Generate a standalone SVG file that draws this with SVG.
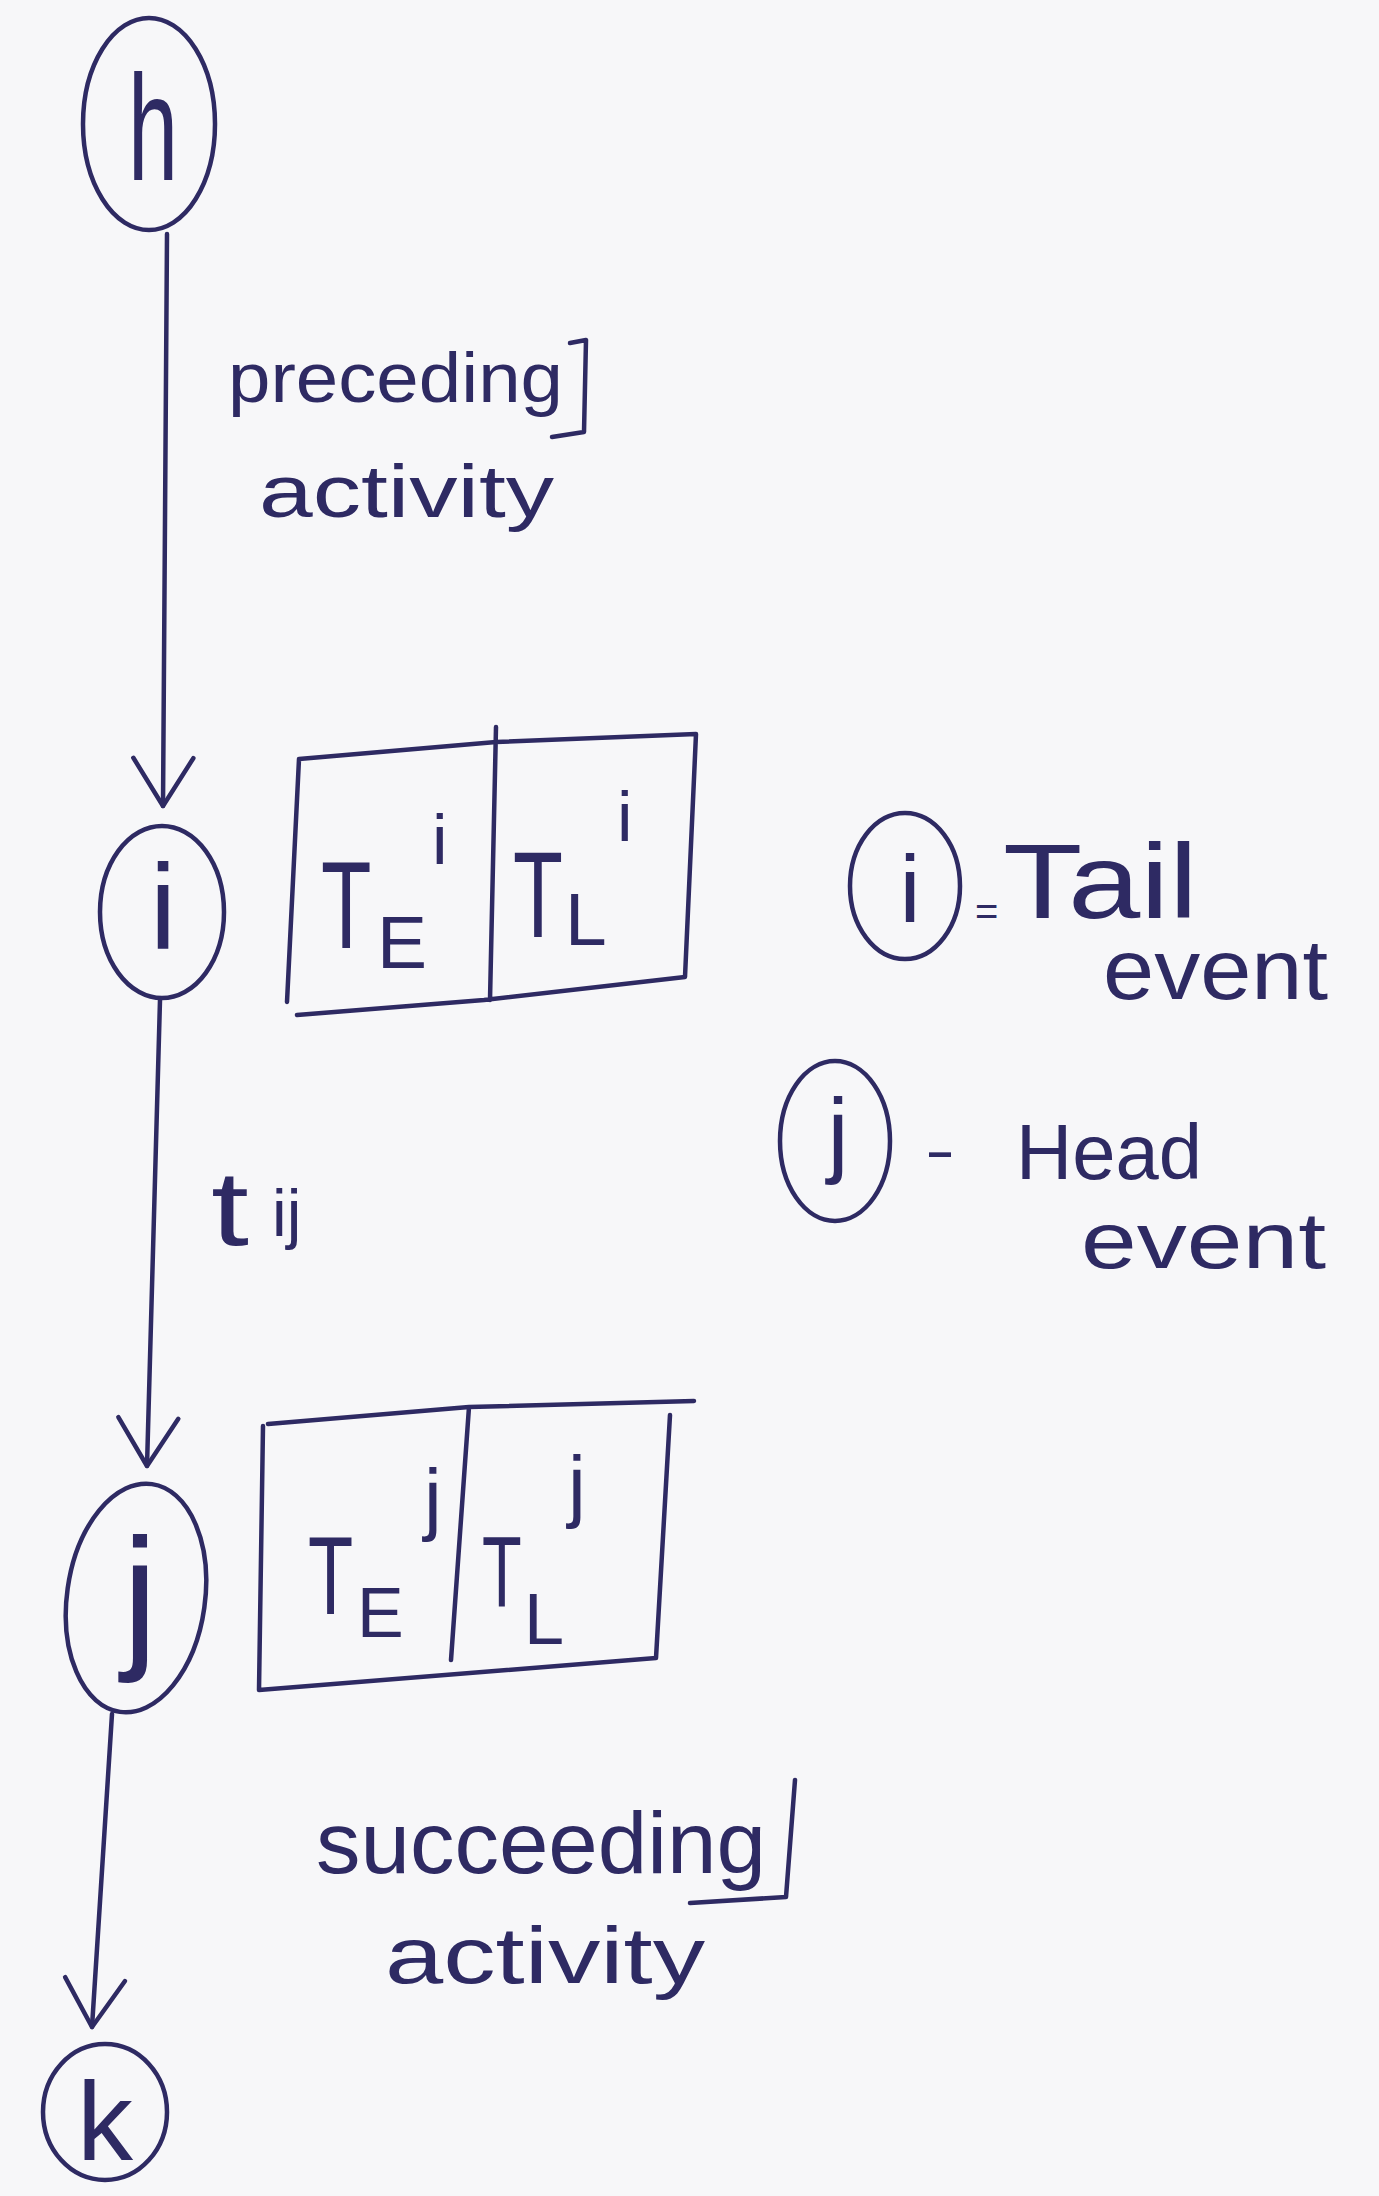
<svg xmlns="http://www.w3.org/2000/svg" width="1379" height="2196" viewBox="0 0 1379 2196">
<style>
.ink{fill:none;stroke:#2e2a63;stroke-width:4.5;stroke-linecap:round;stroke-linejoin:round}
.t{fill:#2e2a63;font-family:"Liberation Sans",Arial,sans-serif}
</style>
<defs>
<marker id="arr" markerUnits="userSpaceOnUse" viewBox="-60 -40 64 80" refX="0" refY="0" markerWidth="64" markerHeight="80" orient="auto">
<path d="M-48,-30 L0,0 L-48,30" fill="none" stroke="#2e2a63" stroke-width="4.5" stroke-linecap="round" stroke-linejoin="round"/>
</marker>
</defs>
<rect width="1379" height="2196" fill="#f7f7f9"/>
<g id="connectors">
<path class="ink" d="M167,234 L163,806" marker-end="url(#arr)"/>
<path class="ink" d="M160,1000 L147,1466" marker-end="url(#arr)"/>
<path class="ink" d="M112,1714 L92,2027" marker-end="url(#arr)"/>
</g>
<g id="node-h">
<ellipse class="ink" cx="149" cy="124" rx="66" ry="106"/>
<text class="t" x="128" y="180" font-size="150" textLength="50" lengthAdjust="spacingAndGlyphs">h</text>
</g>
<g id="label-preceding">
<text class="t" x="228" y="402" font-size="70" textLength="335" lengthAdjust="spacingAndGlyphs">preceding</text>
<text class="t" x="259" y="517" font-size="75" textLength="295" lengthAdjust="spacingAndGlyphs">activity</text>
<path class="ink" d="M570,343 L586,340 L584,432 L552,437"/>
</g>
<g id="node-i">
<ellipse class="ink" cx="162" cy="912" rx="62" ry="86"/>
<text class="t" x="163" y="948" font-size="120" text-anchor="middle">i</text>
</g>
<g id="box-i">
<path class="ink" d="M299,759 L496,742 L696,734 M696,734 L685,977 L484,1000 L297,1015 M299,759 L287,1002 M496,727 L490,1000"/>
<text class="t" font-size="125" transform="translate(321,948) scale(0.66,1)">T</text>
<text class="t" x="377" y="968" font-size="75">E</text>
<text class="t" x="432" y="864" font-size="70">i</text>
<text class="t" font-size="122" transform="translate(513,937) scale(0.67,1)">T</text>
<text class="t" x="565" y="945" font-size="75">L</text>
<text class="t" x="617" y="841" font-size="70">i</text>
</g>
<g id="label-tij">
<text class="t" font-size="105" transform="translate(211,1245) scale(1.3,1)">t</text>
<text class="t" x="272" y="1236" font-size="66">ij</text>
</g>
<g id="legend-i">
<ellipse class="ink" cx="905" cy="886" rx="55" ry="73"/>
<text class="t" x="910" y="922" font-size="95" text-anchor="middle">i</text>
<text class="t" x="975" y="925" font-size="40">=</text>
<text class="t" x="1003" y="918" font-size="105" textLength="195" lengthAdjust="spacingAndGlyphs">Tail</text>
<text class="t" x="1103" y="999" font-size="85" textLength="225" lengthAdjust="spacingAndGlyphs">event</text>
</g>
<g id="legend-j">
<ellipse class="ink" cx="835" cy="1141" rx="55" ry="80"/>
<text class="t" x="838" y="1165" font-size="95" text-anchor="middle">j</text>
<text class="t" x="925" y="1170" font-size="60" textLength="30" lengthAdjust="spacingAndGlyphs">-</text>
<text class="t" x="1016" y="1179" font-size="78" textLength="186" lengthAdjust="spacingAndGlyphs">Head</text>
<text class="t" x="1081" y="1268" font-size="80" textLength="245" lengthAdjust="spacingAndGlyphs">event</text>
</g>
<g id="node-j">
<ellipse class="ink" cx="136" cy="1598" rx="69" ry="115" transform="rotate(8 136 1598)"/>
<text class="t" x="140" y="1650" font-size="160" text-anchor="middle">j</text>
</g>
<g id="box-j">
<path class="ink" d="M268,1424 L469,1407 L694,1401 M670,1415 L656,1658 L259,1690 M263,1426 L259,1690 M469,1407 L451,1660"/>
<text class="t" font-size="112" transform="translate(308,1614) scale(0.66,1)">T</text>
<text class="t" x="357" y="1637" font-size="70">E</text>
<text class="t" x="424" y="1525" font-size="80">j</text>
<text class="t" font-size="100" transform="translate(482,1606) scale(0.65,1)">T</text>
<text class="t" x="524" y="1644" font-size="72">L</text>
<text class="t" x="568" y="1512" font-size="80">j</text>
</g>
<g id="label-succeeding">
<text class="t" x="316" y="1873" font-size="88" textLength="450" lengthAdjust="spacingAndGlyphs">succeeding</text>
<text class="t" x="385" y="1983" font-size="80" textLength="320" lengthAdjust="spacingAndGlyphs">activity</text>
<path class="ink" d="M795,1780 L786,1897 L690,1903"/>
</g>
<g id="node-k">
<ellipse class="ink" cx="105" cy="2112" rx="62" ry="68"/>
<text class="t" x="105" y="2160" font-size="112" text-anchor="middle">k</text>
</g>
</svg>
